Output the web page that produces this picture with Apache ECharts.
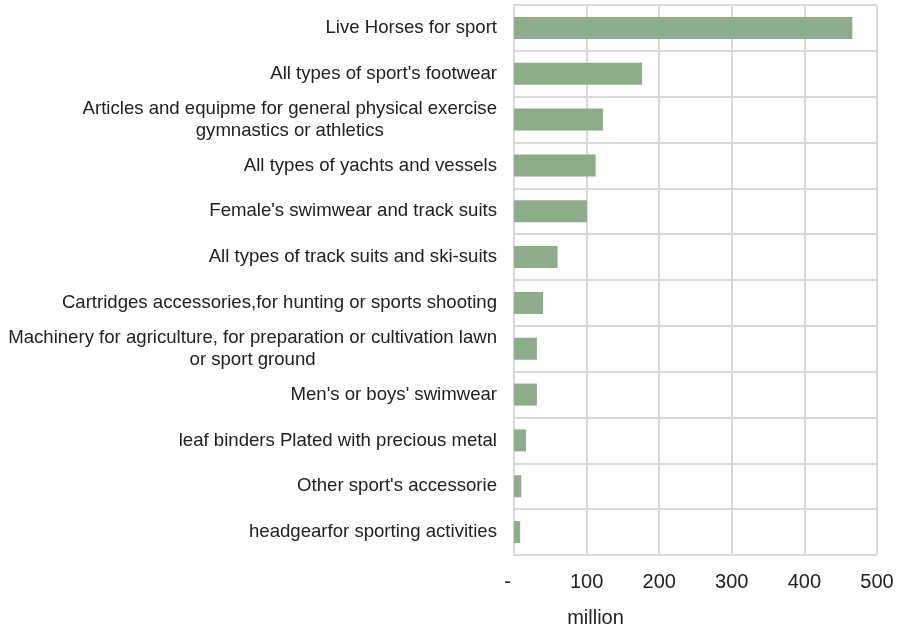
<!DOCTYPE html>
<html>
<head>
<meta charset="utf-8">
<script src="https://cdn.jsdelivr.net/npm/echarts@6/dist/echarts.min.js"></script>
<style>
  html, body { margin: 0; padding: 0; background: #ffffff; }
  #chart { width: 898px; height: 625px; }
</style>
</head>
<body>
<div id="chart"></div>
<script>
// Sports-related import values, million
const categories = [
  "Live Horses for sport",
  "All types of sport's footwear",
  "Articles and equipme for general physical exercise\ngymnastics or athletics",
  "All types of yachts and vessels",
  "Female's swimwear and track suits",
  "All types of track suits and ski-suits",
  "Cartridges accessories,for hunting or sports shooting",
  "Machinery for agriculture, for preparation or cultivation lawn\nor sport ground",
  "Men's or boys' swimwear",
  "leaf binders Plated with precious metal",
  "Other sport's accessorie",
  "headgearfor sporting activities"
];
const values = [466, 176.5, 122.5, 112.5, 100.5, 60, 40, 31.5, 31.5, 16.5, 10, 8.5];
const xTicks = [0, 100, 200, 300, 400, 500];
const unitName = "million";

const chart = echarts.init(document.getElementById('chart'));
const gridColor = '#d9d9d9';
const textColor = '#222222';
const font = 'Liberation Sans, Arial, sans-serif';

chart.setOption({
  animation: false,
  grid: {
    left: 514, right: 21, top: 5, bottom: 70,
    containLabel: false,
    outerBoundsMode: 'none'
  },
  xAxis: {
    type: 'value',
    min: xTicks[0],
    max: xTicks[xTicks.length - 1],
    interval: 100,
    name: unitName,
    nameLocation: 'middle',
    nameGap: 53,
    nameTextStyle: {
      color: textColor,
      fontSize: 20,
      fontFamily: font,
      padding: [0, 200, 0, 0]
    },
    axisLine: { show: false },
    axisTick: { show: false },
    splitLine: { show: true, lineStyle: { color: gridColor, width: 2 } },
    axisLabel: {
      margin: 17,
      color: textColor,
      fontSize: 20,
      fontFamily: font,
      // zero is written as a dash, set a little left of the axis
      formatter: v => (v === 0 ? '{z|-}' : String(v)),
      rich: {
        z: {
          color: textColor,
          fontSize: 20,
          fontFamily: font,
          padding: [0, 13, 0, 0]
        }
      }
    }
  },
  yAxis: {
    type: 'category',
    data: categories,
    inverse: true,
    axisLine: { show: true, lineStyle: { color: gridColor, width: 2 } },
    axisTick: { show: false },
    splitLine: { show: true, lineStyle: { color: gridColor, width: 2 } },
    axisLabel: {
      margin: 17,
      color: textColor,
      fontSize: 18.6,
      lineHeight: 22,
      fontFamily: font,
      // two-line labels: lines centred under each other
      formatter: function (v) {
        if (v.indexOf('\n') < 0) return v;
        return v.split('\n').map(s => '{c|' + s + '}').join('\n');
      },
      rich: {
        c: {
          align: 'center',
          color: textColor,
          fontSize: 18.6,
          lineHeight: 22,
          fontFamily: font
        }
      }
    }
  },
  series: [{
    type: 'bar',
    data: values,
    barWidth: 22,
    itemStyle: { color: '#8cac8a' }
  }]
});
</script>
</body>
</html>
